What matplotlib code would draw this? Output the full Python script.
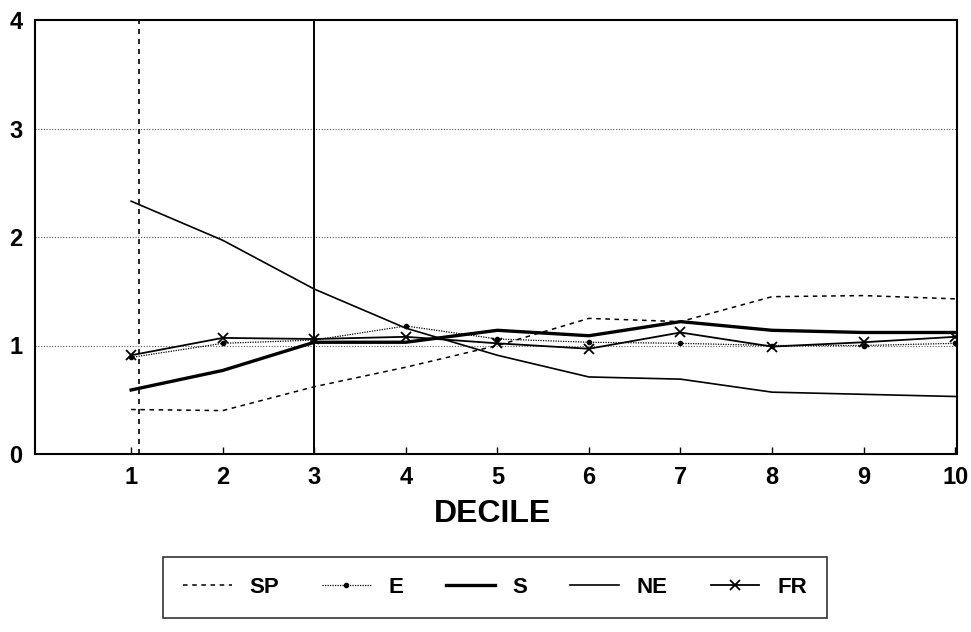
import numpy as np
import matplotlib.pyplot as plt

plt.rcParams['font.family'] = ['Liberation Sans', 'DejaVu Sans']

deciles = np.arange(1, 11)
sp = [0.41, 0.40, 0.62, 0.80, 1.00, 1.25, 1.22, 1.45, 1.46, 1.43]
e = [0.89, 1.02, 1.05, 1.18, 1.06, 1.03, 1.02, 1.00, 1.00, 1.02]
s = [0.59, 0.77, 1.03, 1.03, 1.14, 1.09, 1.22, 1.14, 1.12, 1.12]
ne = [2.33, 1.97, 1.52, 1.16, 0.91, 0.71, 0.69, 0.57, 0.55, 0.53]
fr = [0.91, 1.07, 1.06, 1.08, 1.02, 0.97, 1.12, 0.99, 1.03, 1.08]

fig = plt.figure(figsize=(9.71, 6.32), dpi=100)
ax = fig.add_axes([35/971, (632-454)/632, 922/971, 434/632])

# faint horizontal gridlines
for yv in [1, 2, 3]:
    ax.axhline(yv, color='0.35', lw=0.8, ls=(0, (1, 1.5)), zorder=1)

# reference verticals
ax.axvline(1.09, color='black', lw=1.2, ls=(0, (3, 3)), zorder=2)
ax.axvline(3, color='black', lw=1.4, zorder=2)

ax.plot(deciles, sp, color='black', lw=1.1, ls=(0, (3, 3)), label='SP', zorder=3)
ax.plot(deciles, e, color='black', lw=0.9, ls=(0, (1, 1)), marker='o', ms=3,
        label='E', zorder=3)
ax.plot(deciles, s, color='black', lw=2.4, label='S', zorder=3)
ax.plot(deciles, ne, color='black', lw=1.2, label='NE', zorder=3)
ax.plot(deciles, fr, color='black', lw=1.3, marker='x', ms=7, mew=1.3,
        label='FR', zorder=3)

ax.set_xlim(-0.05, 10.02)
ax.set_ylim(0, 4)
ax.set_xticks(deciles)
ax.set_yticks([0, 1, 2, 3, 4])
ax.tick_params(axis='x', direction='in', length=5, width=1, labelsize=17, pad=9)
ax.tick_params(axis='y', length=0, labelsize=17, pad=9)
for lab in ax.get_xticklabels() + ax.get_yticklabels():
    lab.set_fontweight('bold')
for sp_name in ax.spines.values():
    sp_name.set_linewidth(1.5)
ax.set_xlabel('DECILE', fontsize=23, fontweight='bold')
ax.xaxis.set_label_coords(0.496, -0.138)
ax.xaxis.label.set_va('center')

leg = fig.legend(loc='lower left', bbox_to_anchor=(163/971, 14/632, 664/971, 63/632),
                 mode='expand', ncol=5, frameon=True, fancybox=False,
                 edgecolor='black', handlelength=2.2, numpoints=1,
                 prop={'weight': 'bold', 'size': 16}, borderaxespad=0,
                 borderpad=0.9)
leg.get_frame().set_linewidth(1.2)

fig.savefig('out.png', dpi=100)
